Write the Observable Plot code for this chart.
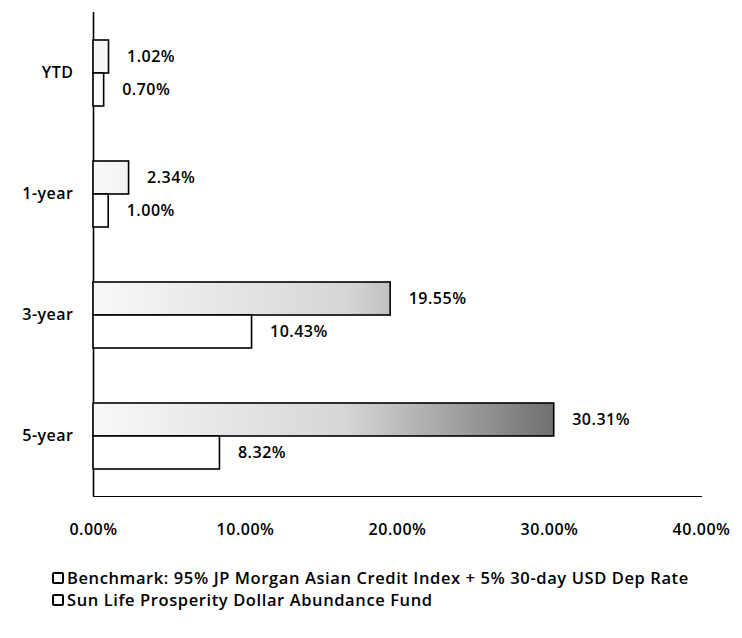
<!DOCTYPE html>
<html>
<head>
<meta charset="utf-8">
<script src="https://cdn.jsdelivr.net/npm/d3@7"></script>
<script src="https://cdn.jsdelivr.net/npm/@observablehq/plot@0.6"></script>
<style>
  html, body { margin: 0; padding: 0; background: #fff; }
  body { width: 742px; height: 638px; overflow: hidden; font-family: "Open Sans", Lato, sans-serif; color: #000; }
  #legend { margin: 21px 0 0 52px; font-size: 16.5px; line-height: 22px; letter-spacing: 0.6px; font-weight: 600; white-space: nowrap; }
  .sw { display: inline-block; width: 8px; height: 8px; border: 2px solid #000; border-radius: 2px; margin-right: 3px; vertical-align: 0px; }
</style>
</head>
<body>
<div id="chart"></div>
<div id="legend"></div>
<script>
const periods = ["YTD", "1-year", "3-year", "5-year"];
const seriesNames = [
  "Benchmark: 95% JP Morgan Asian Credit Index + 5% 30-day USD Dep Rate",
  "Sun Life Prosperity Dollar Abundance Fund"
];
const benchmarkValues = [1.02, 2.34, 19.55, 30.31];
const fundValues = [0.70, 1.00, 10.43, 8.32];
const xTicks = [0, 10, 20, 30, 40];

const rows = [];
periods.forEach((p, i) => {
  rows.push({period: p, series: seriesNames[0], value: benchmarkValues[i]});
  rows.push({period: p, series: seriesNames[1], value: fundValues[i]});
});

// gradient defs built from the library's x scale
function stippleDefs(index, scales) {
  const defs = d3.create("svg:defs");
  const g = defs.append("linearGradient")
    .attr("id", "stipple")
    .attr("gradientUnits", "userSpaceOnUse")
    .attr("x1", scales.x(0)).attr("x2", scales.x(d3.max(benchmarkValues)))
    .attr("y1", 0).attr("y2", 0);
  g.append("stop").attr("offset", "0").attr("stop-color", "#f8f8f8");
  g.append("stop").attr("offset", "0.55").attr("stop-color", "#d6d6d6");
  g.append("stop").attr("offset", "1").attr("stop-color", "#707070");
  return defs.node();
}

const chart = Plot.plot({
  width: 742,
  height: 546,
  marginLeft: 93,
  marginRight: 41,
  marginTop: 12,
  marginBottom: 50,
  style: {fontFamily: "'Open Sans', Lato, sans-serif", fontSize: "16px", fontWeight: 600, letterSpacing: "0.5px", color: "#000", background: "#fff"},
  x: {domain: [0, 40], ticks: xTicks, tickFormat: d => d.toFixed(2) + "%", tickSize: 0, tickPadding: 27, line: true, label: null},
  y: {domain: seriesNames, paddingInner: 0, paddingOuter: 0.83, axis: null},
  fy: {domain: periods, padding: 0, axis: "left", tickSize: 0, tickPadding: 20, label: null},
  color: {domain: seriesNames, range: ["url(#stipple)", "white"]},
  marks: [
    stippleDefs,
    Plot.ruleX([0], {stroke: "#000", strokeWidth: 1.6}),
    Plot.barX(rows, {x: "value", y: "series", fy: "period", fill: "series", stroke: "#000", strokeWidth: 1.6}),
    Plot.text(rows, {x: "value", y: "series", fy: "period", text: d => d.value.toFixed(2) + "%", dx: 18, textAnchor: "start", fontSize: 16, fontWeight: 600, fill: "#000"})
  ]
});
document.getElementById("chart").appendChild(chart);

const legend = d3.select("#legend");
seriesNames.forEach(name => {
  const row = legend.append("div");
  row.append("span").attr("class", "sw");
  row.append("span").text(name);
});
</script>
</body>
</html>
